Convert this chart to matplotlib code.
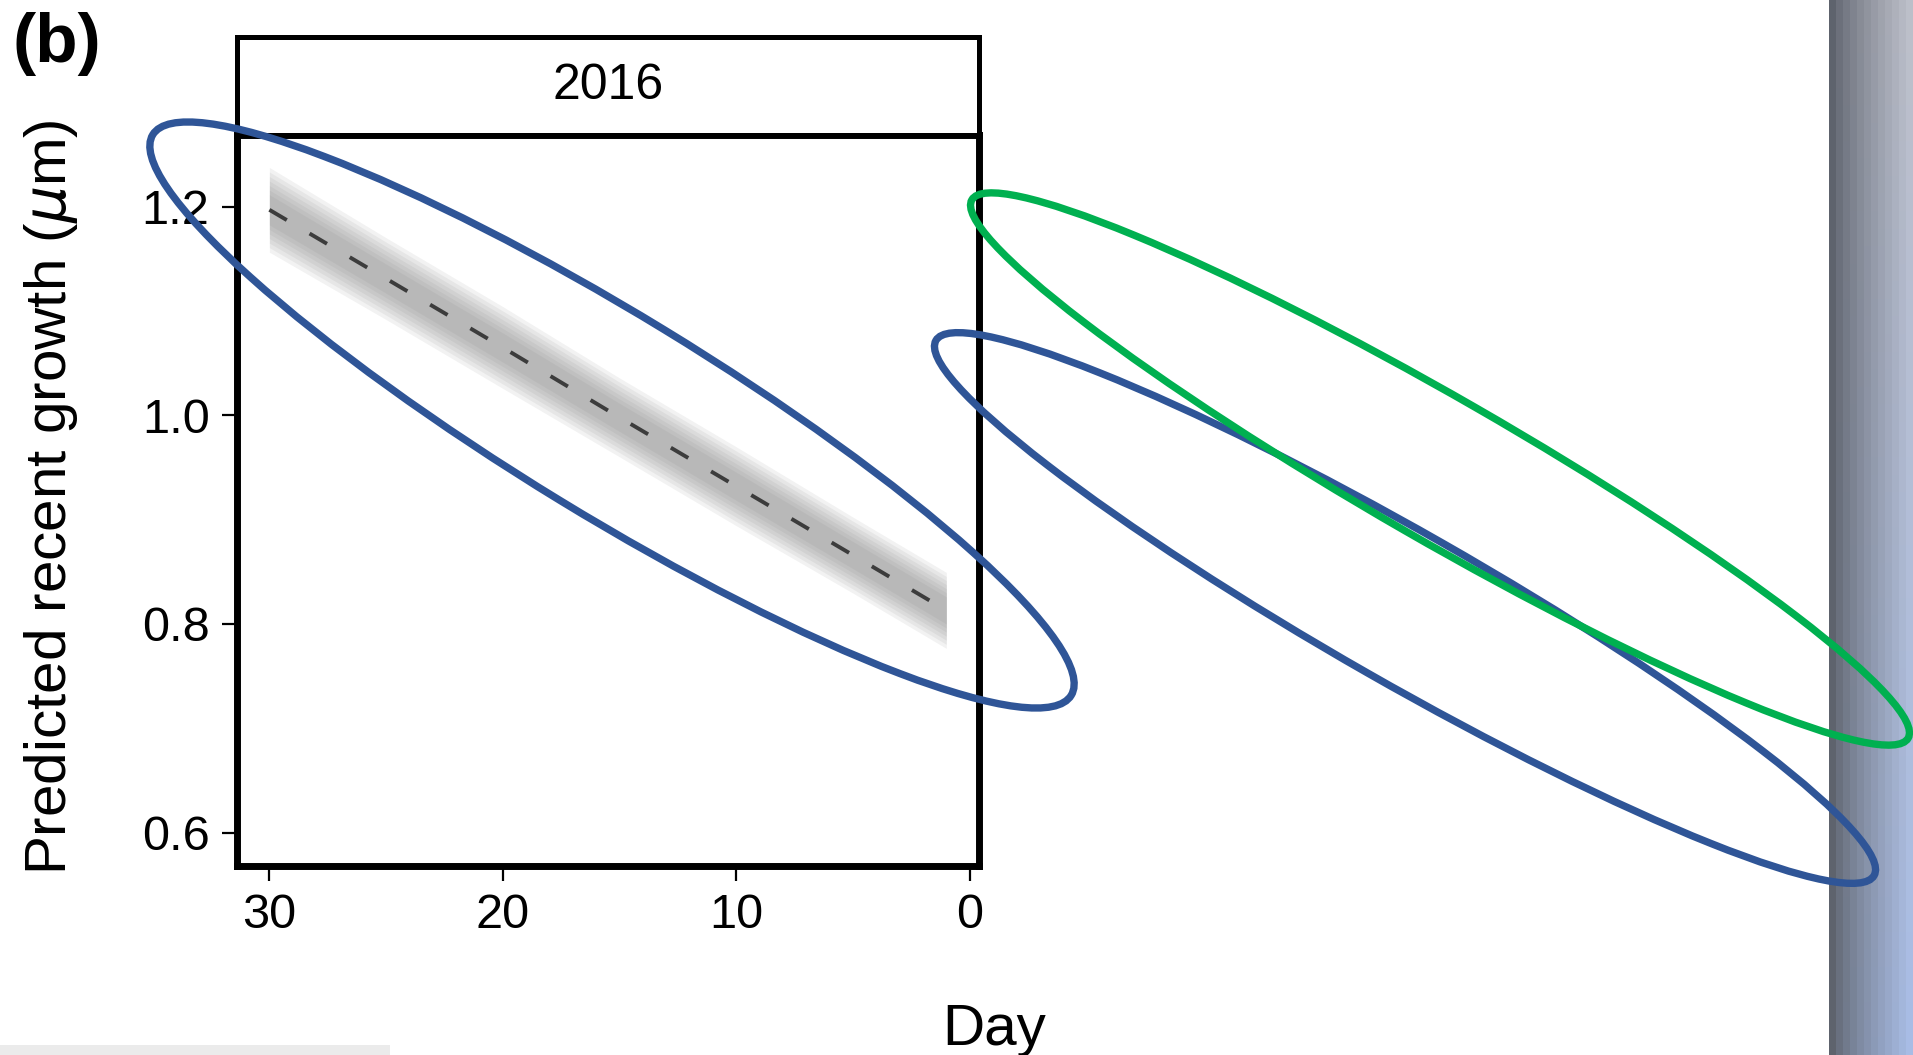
import numpy as np
import matplotlib
matplotlib.use("Agg")
import matplotlib.pyplot as plt
from matplotlib.patches import Ellipse

plt.rcParams['font.family'] = ['Liberation Sans', 'DejaVu Sans']

# Values
days = [30, 25, 20, 15, 10, 5, 1]
growth = [1.197, 1.131, 1.065, 0.998, 0.932, 0.866, 0.813]
half_ci = [0.029, 0.028, 0.028, 0.027, 0.027, 0.026, 0.026]
panel_year = "2016"
x_ticks = [30, 20, 10, 0]
y_ticks = [0.6, 0.8, 1.0, 1.2]
y_ticklabels = ["0.6", "0.8", "1.0", "1.2"]

# Hand-drawn highlight ellipses (figure pixels): cx, cy, width, height, angle, colour
ellipses = [
    (612, 415, 1076, 200, 31.4, "#2F5597"),
    (1405, 608, 1080, 150, 29.7, "#2F5597"),
    (1440, 469, 1080, 142, 29.9, "#00B050"),
]

W, H = 1913, 1055
fig = plt.figure(figsize=(W / 100, H / 100), dpi=100)
fig.patch.set_facecolor("white")

def fx(px):
    return px / W

def fy(py):
    return 1 - py / H

# main panel
left, right, top, bottom = 236.7, 979, 135, 866
ax = fig.add_axes([fx(left), fy(bottom), fx(right) - fx(left), fy(top) - fy(bottom)])
d = np.array(days, dtype=float)
g = np.array(growth)
hw = np.array(half_ci)
for s in [1.4, 1.25, 1.1, 0.95, 0.8, 0.65, 0.5]:
    ax.fill_between(d, g - hw * s, g + hw * s, color="#707070", alpha=0.09, lw=0)
ax.plot(d, g, color="#3c3c3c", lw=2.8, dashes=(5.2, 6.8))
ax.set_xlim(31.4, -0.4)
ax.set_ylim(0.568, 1.2687)
ax.set_xticks(x_ticks)
ax.set_xticklabels([str(t) for t in x_ticks])
ax.set_yticks(y_ticks)
ax.set_yticklabels(y_ticklabels)
for sp in ax.spines.values():
    sp.set_linewidth(5)
ax.tick_params(direction="out", length=10.5, width=1.6, labelsize=35, pad=9)

# strip on top
sx = fig.add_axes([fx(left), fy(top), fx(right) - fx(left), fy(36.6) - fy(top)])
sx.set_xticks([])
sx.set_yticks([])
for sp in sx.spines.values():
    sp.set_linewidth(3.6)
sx.text(0.5, 0.5, panel_year, ha="center", va="center", fontsize=36, transform=sx.transAxes)

# labels
fig.text(fx(51), fy(497), "Predicted recent growth ($\\mu$m)", rotation=90,
         ha="center", va="center", fontsize=42)
fig.text(fx(994), fy(1045), "Day", ha="center", va="baseline", fontsize=42)
fig.text(fx(12), fy(12), "(b)", ha="left", va="top", fontsize=50, fontweight="bold")

# overlay in pixel coordinates
ov = fig.add_axes([0, 0, 1, 1], zorder=10)
ov.set_xlim(0, W)
ov.set_ylim(H, 0)
ov.axis("off")

# gradient bar at right edge
nx, ny = 12, 60
tx = np.linspace(0, 1, nx) ** 0.8
ty = np.linspace(0, 1, ny)[:, None]
left_col = np.array([0.37, 0.39, 0.43])
right_top = np.array([0.74, 0.75, 0.79])
right_bot = np.array([0.66, 0.74, 0.90])
right_col = right_top[None, :] * (1 - ty) + right_bot[None, :] * ty
img = left_col[None, None, :] * (1 - tx[None, :, None]) + right_col[:, None, :] * tx[None, :, None]
ov.imshow(img, extent=(1829, W, H, 0), interpolation="nearest", aspect="auto", zorder=1)
ov.add_patch(plt.Rectangle((0, 1045), 390, 10, color="#ebebeb", lw=0, zorder=1))

for cx, cy, w, h, ang, col in ellipses:
    ov.add_patch(Ellipse((cx, cy), w, h, angle=ang, fill=False, edgecolor=col,
                         lw=5.3, zorder=5, clip_on=False))
ov.set_xlim(0, W)
ov.set_ylim(H, 0)

fig.savefig("out.png", dpi=100)
